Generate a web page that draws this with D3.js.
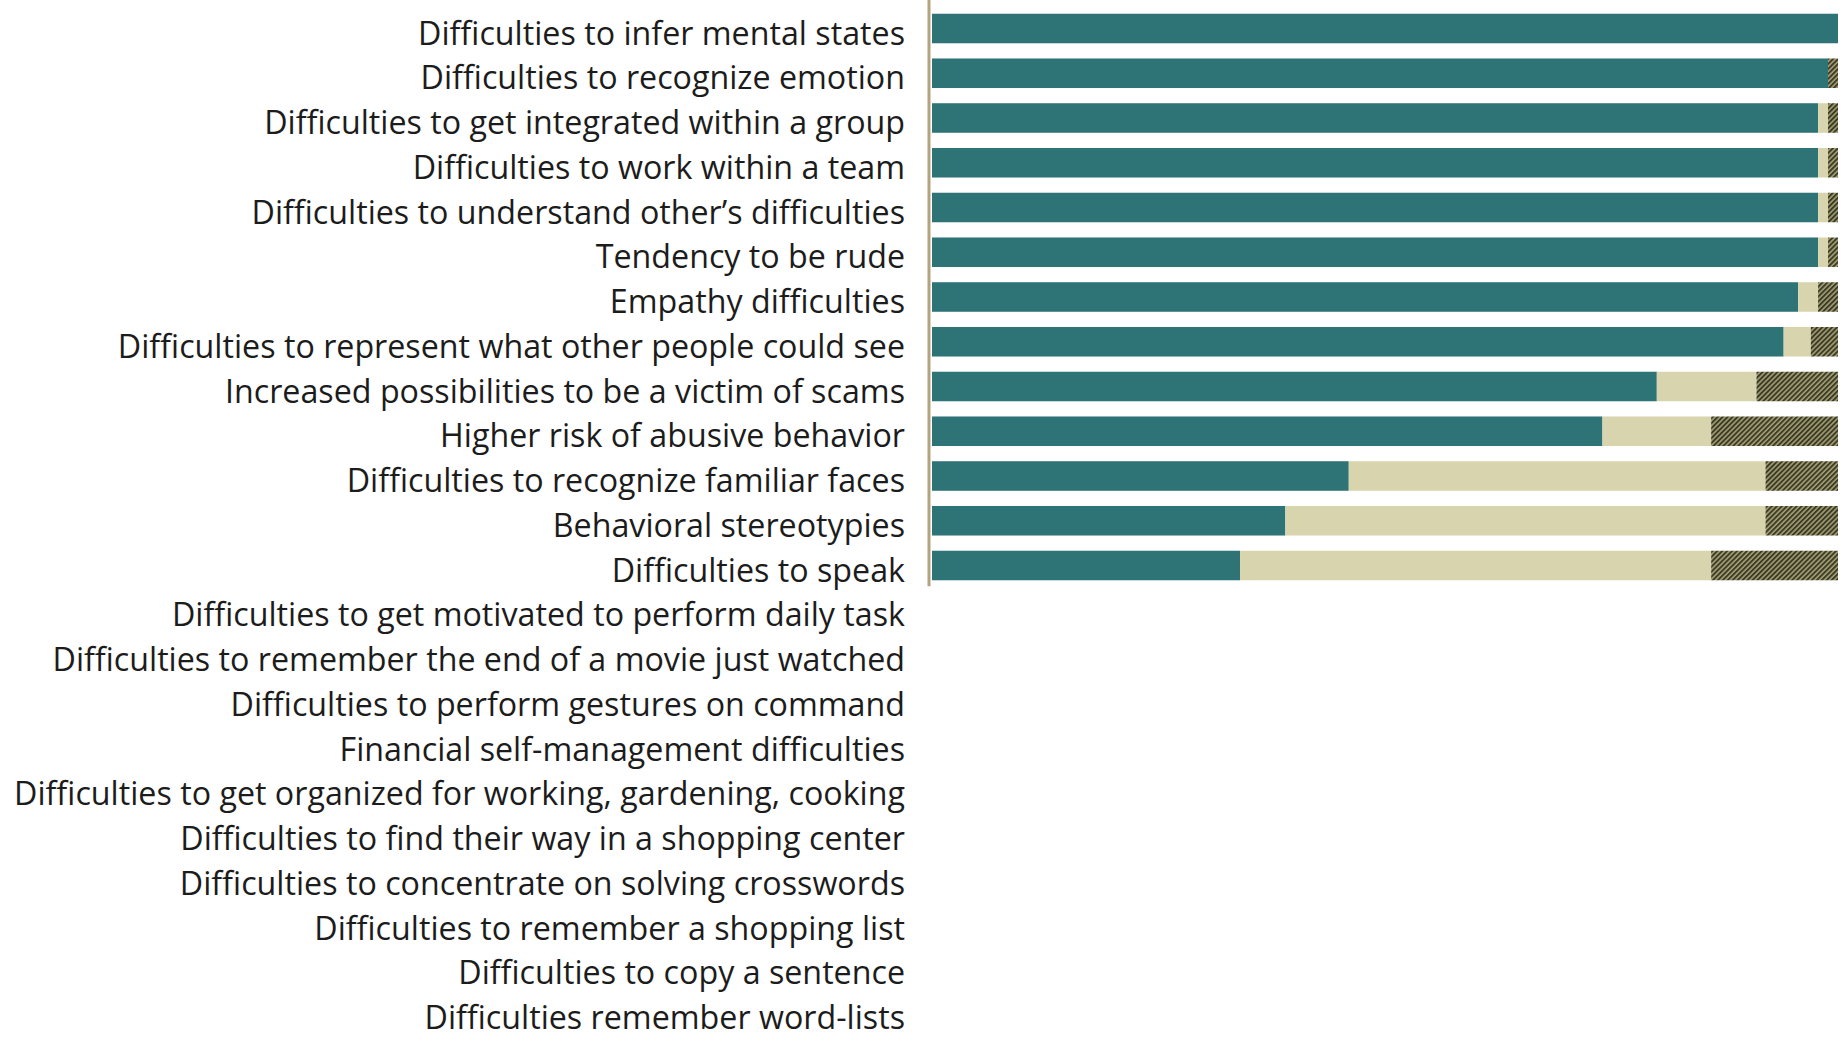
<!DOCTYPE html>
<html>
<head>
<meta charset="utf-8">
<script src="https://cdn.jsdelivr.net/npm/d3@7/dist/d3.min.js"></script>
<style>
  html, body { margin: 0; padding: 0; background: #ffffff; }
  svg { display: block; }
</style>
</head>
<body>
<svg id="chart" width="1845" height="1045"></svg>
<script>
// Reported difficulties, top to bottom
const categories = [
  "Difficulties to infer mental states",
  "Difficulties to recognize emotion",
  "Difficulties to get integrated within a group",
  "Difficulties to work within a team",
  "Difficulties to understand other\u2019s difficulties",
  "Tendency to be rude",
  "Empathy difficulties",
  "Difficulties to represent what other people could see",
  "Increased possibilities to be a victim of scams",
  "Higher risk of abusive behavior",
  "Difficulties to recognize familiar faces",
  "Behavioral stereotypies",
  "Difficulties to speak",
  "Difficulties to get motivated to perform daily task",
  "Difficulties to remember the end of a movie just watched",
  "Difficulties to perform gestures on command",
  "Financial self-management difficulties",
  "Difficulties to get organized for working, gardening, cooking",
  "Difficulties to find their way in a shopping center",
  "Difficulties to concentrate on solving crosswords",
  "Difficulties to remember a shopping list",
  "Difficulties to copy a sentence",
  "Difficulties remember word-lists"
];

// Share of answers (%) for each item; items without answers are 0
const agree    = [100, 98.9, 97.8, 97.8, 97.8, 97.8, 95.6, 94, 80, 74, 46, 39, 34, 0, 0, 0, 0, 0, 0, 0, 0, 0, 0];
const disagree = [0,   0,    1.1,  1.1,  1.1,  1.1,  2.2,  3,  11, 12, 46, 53, 52, 0, 0, 0, 0, 0, 0, 0, 0, 0, 0];
const unsure   = [0,   1.1,  1.1,  1.1,  1.1,  1.1,  2.2,  3,  9,  14, 8,  8,  14, 0, 0, 0, 0, 0, 0, 0, 0, 0, 0];

const seriesKeys = ["agree", "disagree", "unsure"];

const rows = categories.map((c, i) => ({
  category: c,
  agree: agree[i],
  disagree: disagree[i],
  unsure: unsure[i]
}));

const svg = d3.select("#chart");

const defs = svg.append("defs");
const hatch = defs.append("pattern")
  .attr("id", "hatch")
  .attr("patternUnits", "userSpaceOnUse")
  .attr("width", 3.5)
  .attr("height", 3.5)
  .attr("patternTransform", "rotate(45)");
hatch.append("rect")
  .attr("width", 3.5).attr("height", 3.5)
  .attr("fill", "#a39f72");
hatch.append("rect")
  .attr("width", 1.9).attr("height", 3.5)
  .attr("fill", "#3b3a27");

const fills = {
  agree: "#2e7376",
  disagree: "#d8d5ae",
  unsure: "url(#hatch)"
};

const axisX = 929;
const x = d3.scaleLinear().domain([0, 100]).range([axisX + 3, 1838]);

const step = 44.75;
const firstCenter = 28.5;
const y = d3.scaleBand()
  .domain(categories)
  .range([firstCenter - step / 2, firstCenter - step / 2 + step * categories.length])
  .paddingInner(0.34)
  .paddingOuter(0.17);

const stacked = d3.stack().keys(seriesKeys)(rows);

svg.append("g")
  .selectAll("g")
  .data(stacked)
  .join("g")
    .attr("fill", d => fills[d.key])
  .selectAll("rect")
  .data(d => d.filter(p => p[1] - p[0] > 0))
  .join("rect")
    .attr("x", p => x(p[0]))
    .attr("y", p => y(p.data.category))
    .attr("width", p => x(p[1]) - x(p[0]))
    .attr("height", y.bandwidth());

// Category labels
const labelAxis = svg.append("g")
  .attr("transform", `translate(${axisX},0)`)
  .call(d3.axisLeft(y).tickSize(0).tickPadding(24));
labelAxis.select(".domain").remove();
const labels = labelAxis.selectAll(".tick text")
  .attr("fill", "#1c1c1c")
  .attr("font-family", "'Open Sans', sans-serif")
  .attr("font-size", 26)
  .attr("dy", "0.50em");

// Fit the longest label to the available width on the left
let longest = 0;
labels.each(function () { longest = Math.max(longest, this.getComputedTextLength()); });
const targetWidth = 891;
const fitted = 26 * targetWidth / longest;
labels.attr("font-size", fitted);

// Vertical baseline next to the bars
const lastBar = categories[12];
svg.append("line")
  .attr("x1", axisX).attr("x2", axisX)
  .attr("y1", 0)
  .attr("y2", y(lastBar) + y.bandwidth() + 6)
  .attr("stroke", "#b3a47f")
  .attr("stroke-width", 3);
</script>
</body>
</html>
